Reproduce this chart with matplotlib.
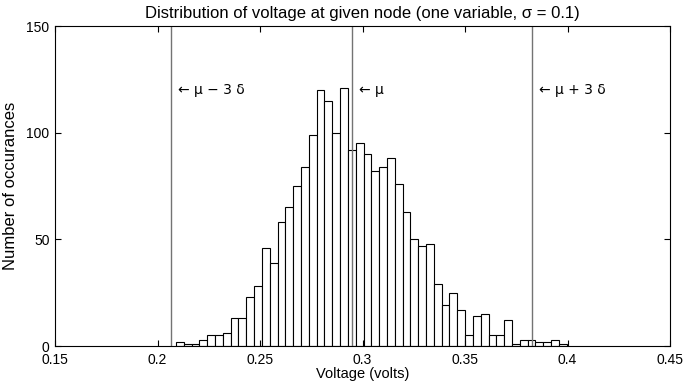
import matplotlib
matplotlib.use("Agg")
import matplotlib.pyplot as plt
import numpy as np

plt.rcParams['font.family'] = ['Liberation Sans', 'DejaVu Sans']

# histogram: 50 bins between lo and hi
counts = [2, 1, 1, 3, 5, 5, 6, 13, 13, 23,
          28, 46, 39, 58, 65, 75, 84, 99, 120, 115,
          100, 121, 92, 95, 90, 82, 84, 88, 76, 63,
          50, 47, 48, 29, 19, 25, 17, 5, 14, 15,
          5, 5, 12, 1, 3, 3, 2, 2, 3, 1]
lo, hi = 0.2090, 0.3996
mu = 0.2947
delta = 0.02937

xticks = [0.15, 0.2, 0.25, 0.3, 0.35, 0.4, 0.45]
xticklabels = ["0.15", "0.2", "0.25", "0.3", "0.35", "0.4", "0.45"]
yticks = [0, 50, 100, 150]

edges = np.linspace(lo, hi, len(counts) + 1)

fig = plt.figure(figsize=(7, 3.86), dpi=100)
ax = fig.add_axes([0.0786, 0.1036, 0.8786, 0.8290])

ax.bar(edges[:-1], counts, width=np.diff(edges), align='edge',
       facecolor='white', edgecolor='black', linewidth=0.8)

# mean and +-3 delta markers
for v in [mu - 3 * delta, mu, mu + 3 * delta]:
    ax.axvline(v, color='0.45', linewidth=1.0)

fam = ['DejaVu Sans']
ax.text(mu - 3 * delta + 0.0035, 120, "\u2190 \u03bc \u2212 3 \u03b4", fontsize=10, va='center', family=fam)
ax.text(mu + 0.0035, 120, "\u2190 \u03bc", fontsize=10, va='center', family=fam)
ax.text(mu + 3 * delta + 0.0035, 120, "\u2190 \u03bc + 3 \u03b4", fontsize=10, va='center', family=fam)

ax.set_xlim(0.15, 0.45)
ax.set_ylim(0, 150)
ax.set_xticks(xticks)
ax.set_xticklabels(xticklabels)
ax.set_yticks(yticks)
ax.tick_params(direction='in', top=True, right=True, labelsize=10, length=4)
ax.tick_params(axis='x', pad=5)
ax.tick_params(axis='y', pad=4)
for s in ax.spines.values():
    s.set_linewidth(0.8)

ax.set_title("Distribution of voltage at given node (one variable, \u03c3 = 0.1)", fontsize=12, pad=6)
ax.set_xlabel("Voltage (volts)", fontsize=10.5, labelpad=0)
ax.set_ylabel("Number of occurances", fontsize=12, labelpad=6)

fig.savefig("out.png", dpi=100)
